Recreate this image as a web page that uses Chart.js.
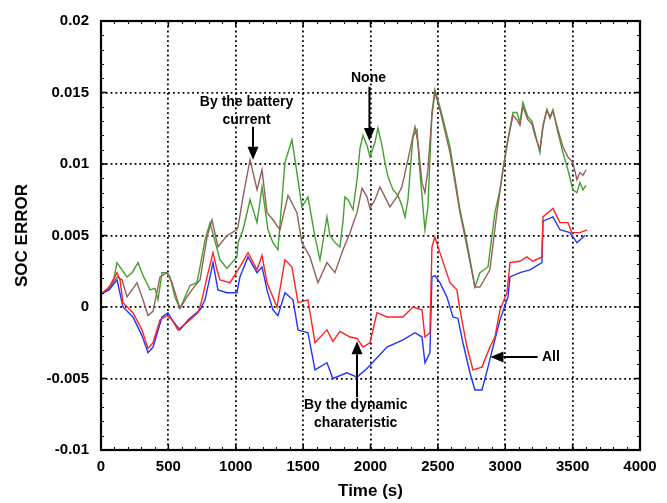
<!DOCTYPE html>
<html lang="en">
<head>
<meta charset="UTF-8">
<title>SOC error</title>
<script src="https://cdn.jsdelivr.net/npm/chart.js@4"></script>
<style>
  html, body { margin: 0; padding: 0; background: #fff; }
  canvas { display: block; }
</style>
</head>
<body>
<canvas id="socChart" width="667" height="503"></canvas>
<script>
// time (s) / SOC error, one pair of arrays per curve
const noneTime = [0, 45, 89, 119, 156, 193, 230, 275, 312, 364, 401, 423, 453, 490, 512, 549, 586, 623, 660, 712, 735, 772, 809, 883, 935, 1009, 1017, 1054, 1106, 1158, 1195, 1239, 1276, 1313, 1365, 1417, 1454, 1491, 1536, 1588, 1625, 1677, 1699, 1736, 1773, 1796, 1810, 1833, 1870, 1900, 1922, 1944, 1974, 1996, 2033, 2055, 2085, 2107, 2130, 2167, 2204, 2233, 2256, 2278, 2315, 2345, 2367, 2404, 2426, 2456, 2478, 2515, 2590, 2664, 2716, 2775, 2812, 2872, 2923, 2961, 2983, 3020, 3057, 3087, 3109, 3131, 3168, 3198, 3220, 3257, 3280, 3309, 3332, 3354, 3391, 3428, 3465, 3502, 3532, 3554, 3577, 3600];
const noneErr = [0.0009, 0.0012, 0.0017, 0.0031, 0.0026, 0.0021, 0.0024, 0.0031, 0.0022, 0.0012, 0.0013, 0.0005, 0.0024, 0.0024, 0.0021, 0.0007, -0.0001, 0.0007, 0.0015, 0.0017, 0.0028, 0.0047, 0.0059, 0.0033, 0.0027, 0.0035, 0.0045, 0.0054, 0.0075, 0.0059, 0.0084, 0.0054, 0.0045, 0.004, 0.0101, 0.0117, 0.0094, 0.007, 0.0077, 0.0049, 0.0033, 0.0063, 0.005, 0.0045, 0.0042, 0.006, 0.0077, 0.0075, 0.0068, 0.0089, 0.0111, 0.012, 0.0113, 0.0105, 0.0115, 0.0125, 0.0113, 0.0101, 0.0091, 0.0082, 0.0078, 0.0071, 0.0063, 0.0075, 0.0119, 0.0124, 0.0094, 0.0054, 0.007, 0.0136, 0.0152, 0.014, 0.0112, 0.0068, 0.0045, 0.0014, 0.0024, 0.0028, 0.0066, 0.0082, 0.0096, 0.0117, 0.0136, 0.0136, 0.0129, 0.0143, 0.0133, 0.013, 0.0122, 0.0108, 0.0126, 0.0138, 0.0133, 0.0138, 0.0122, 0.0108, 0.0096, 0.0082, 0.008, 0.0087, 0.0082, 0.0085];

const currentTime = [0, 60, 119, 156, 193, 230, 267, 312, 349, 386, 438, 490, 527, 586, 638, 682, 735, 787, 824, 868, 935, 1009, 1017, 1054, 1106, 1158, 1195, 1232, 1276, 1328, 1388, 1454, 1491, 1551, 1610, 1677, 1736, 1796, 1848, 1870, 1900, 1937, 1974, 1996, 2033, 2070, 2107, 2144, 2196, 2233, 2278, 2330, 2352, 2382, 2404, 2426, 2456, 2478, 2515, 2590, 2664, 2716, 2775, 2812, 2886, 2938, 2983, 3020, 3057, 3087, 3109, 3131, 3168, 3198, 3220, 3257, 3280, 3309, 3332, 3354, 3391, 3428, 3465, 3502, 3532, 3554, 3577, 3600];
const currentErr = [0.0009, 0.0013, 0.0021, 0.0019, 0.0007, 0.0012, 0.0017, 0.0005, -0.0006, -0.0003, 0.0021, 0.0024, 0.0017, -0.0001, 0.0007, 0.0013, 0.0019, 0.0049, 0.0061, 0.0042, 0.005, 0.0054, 0.0056, 0.0077, 0.0103, 0.0082, 0.0096, 0.0066, 0.0061, 0.0054, 0.0078, 0.0066, 0.0045, 0.0035, 0.0017, 0.0031, 0.0024, 0.004, 0.0052, 0.0058, 0.0066, 0.0083, 0.0077, 0.0069, 0.0075, 0.0084, 0.0077, 0.007, 0.0077, 0.0084, 0.0103, 0.0126, 0.0115, 0.0087, 0.008, 0.0096, 0.0134, 0.015, 0.0138, 0.0108, 0.0066, 0.0042, 0.0014, 0.0014, 0.0026, 0.0066, 0.0096, 0.0117, 0.0134, 0.0131, 0.0127, 0.014, 0.0131, 0.0128, 0.012, 0.011, 0.0127, 0.0138, 0.0132, 0.0137, 0.0124, 0.0112, 0.0105, 0.0101, 0.0089, 0.0094, 0.0092, 0.0096];

const dynamicTime = [0, 60, 119, 141, 163, 237, 304, 349, 386, 438, 490, 527, 571, 623, 660, 720, 749, 787, 831, 861, 883, 957, 1031, 1091, 1158, 1195, 1232, 1306, 1365, 1417, 1462, 1536, 1588, 1677, 1721, 1773, 1848, 1900, 1944, 1996, 2048, 2122, 2241, 2315, 2382, 2404, 2441, 2456, 2478, 2515, 2590, 2641, 2664, 2716, 2760, 2827, 2886, 2923, 2961, 3013, 3035, 3109, 3161, 3205, 3272, 3280, 3354, 3406, 3465, 3495, 3554, 3606];
const dynamicErr = [0.0009, 0.0014, 0.0024, 0.0019, 0.0003, -0.0004, -0.0016, -0.0029, -0.0025, -0.0009, -0.0006, -0.0009, -0.0016, -0.0012, -0.0009, -0.0004, 0.0005, 0.0021, 0.0038, 0.0026, 0.0019, 0.0017, 0.0028, 0.0038, 0.0026, 0.0036, 0.0017, 0.0, 0.0033, 0.0028, 0.0003, 0.0005, -0.0025, -0.0016, -0.0024, -0.0017, -0.0021, -0.0022, -0.0028, -0.0025, -0.0004, -0.0007, -0.0007, 0.0, -0.0002, -0.0021, -0.0018, 0.0042, 0.0049, 0.0038, 0.0017, 0.0012, -0.0002, -0.0028, -0.0044, -0.0042, -0.0028, -0.0021, -0.0002, 0.001, 0.0031, 0.0032, 0.0035, 0.0032, 0.0035, 0.0063, 0.0069, 0.0059, 0.0059, 0.0052, 0.0052, 0.0054];

const allTime = [0, 60, 119, 163, 237, 304, 349, 386, 453, 497, 527, 586, 646, 735, 772, 809, 831, 868, 935, 1009, 1031, 1091, 1158, 1195, 1232, 1276, 1313, 1365, 1425, 1462, 1536, 1588, 1677, 1721, 1825, 1900, 1974, 2122, 2241, 2330, 2382, 2404, 2441, 2456, 2478, 2515, 2567, 2612, 2649, 2686, 2738, 2775, 2827, 2872, 2909, 2961, 3020, 3035, 3109, 3183, 3272, 3280, 3354, 3406, 3480, 3532, 3591];
const allErr = [0.0009, 0.0012, 0.0019, 0.0, -0.0007, -0.002, -0.0032, -0.0028, -0.0007, -0.0004, -0.0009, -0.0016, -0.0009, -0.0002, 0.0005, 0.0021, 0.0031, 0.0012, 0.001, 0.001, 0.0021, 0.0035, 0.0024, 0.0028, 0.0012, -0.0002, -0.0006, 0.001, 0.0005, -0.0016, -0.0018, -0.0044, -0.0039, -0.005, -0.0046, -0.0049, -0.0043, -0.0028, -0.0023, -0.0018, -0.0021, -0.0039, -0.0032, 0.0021, 0.0022, 0.0017, 0.0007, -0.0007, -0.0008, -0.0025, -0.0046, -0.0058, -0.0058, -0.0042, -0.0028, -0.0009, 0.0007, 0.0021, 0.0024, 0.0026, 0.0031, 0.006, 0.0063, 0.0054, 0.0052, 0.0045, 0.005];

const xTicks = [0, 500, 1000, 1500, 2000, 2500, 3000, 3500, 4000];
const yTicks = [-0.01, -0.005, 0, 0.005, 0.01, 0.015, 0.02];
const yTickLabels = ["-0.01", "-0.005", "0", "0.005", "0.01", "0.015", "0.02"];

// callouts: text lines, text anchor and arrow tail/tip, all in data units
const callouts = [
  { lines: ["By the battery", "current"], tx: 1080, ty: 0.0143, from: [1128, 0.0126], to: [1128, 0.0103] },
  { lines: ["None"], tx: 1985, ty: 0.0160, from: [1992, 0.0154], to: [1992, 0.0116] },
  { lines: ["By the dynamic", "charateristic"], tx: 1890, ty: -0.00685, from: [1900, -0.0063], to: [1900, -0.0024] },
  { lines: ["All"], tx: 3272, ty: -0.0035, from: [3240, -0.0035], to: [2890, -0.0035], left: true }
];

function pts(t, v) {
  return t.map((x, i) => ({ x: x, y: v[i] }));
}

const FONT = "'Liberation Sans', Arial, sans-serif";

const frame = {
  id: "frame",
  afterDraw(chart) {
    const ctx = chart.ctx;
    const a = chart.chartArea;
    const xs = chart.scales.x, ys = chart.scales.y;
    ctx.save();
    ctx.setLineDash([]);
    ctx.strokeStyle = "#000";
    // minor ticks
    ctx.lineWidth = 1;
    ctx.beginPath();
    for (let v = 0; v <= 4000; v += 100) {
      const px = Math.round(xs.getPixelForValue(v)) + 0.5;
      ctx.moveTo(px, a.bottom); ctx.lineTo(px, a.bottom - 3);
      ctx.moveTo(px, a.top); ctx.lineTo(px, a.top + 3);
    }
    for (let k = -10; k <= 20; k++) {
      const py = Math.round(ys.getPixelForValue(k / 1000)) + 0.5;
      ctx.moveTo(a.left, py); ctx.lineTo(a.left + 3, py);
      ctx.moveTo(a.right, py); ctx.lineTo(a.right - 3, py);
    }
    ctx.stroke();
    // major ticks
    ctx.lineWidth = 1.5;
    ctx.beginPath();
    xTicks.forEach(v => {
      const px = xs.getPixelForValue(v);
      ctx.moveTo(px, a.bottom); ctx.lineTo(px, a.bottom - 6);
      ctx.moveTo(px, a.top); ctx.lineTo(px, a.top + 6);
    });
    yTicks.forEach(v => {
      const py = ys.getPixelForValue(v);
      ctx.moveTo(a.left, py); ctx.lineTo(a.left + 6, py);
      ctx.moveTo(a.right, py); ctx.lineTo(a.right - 6, py);
    });
    ctx.stroke();
    ctx.lineWidth = 2.2;
    ctx.strokeRect(a.left, a.top, a.right - a.left, a.bottom - a.top);

    // callouts
    ctx.fillStyle = "#000";
    ctx.font = "bold 14px " + FONT;
    ctx.textBaseline = "middle";
    callouts.forEach(c => {
      const tx = xs.getPixelForValue(c.tx), ty = ys.getPixelForValue(c.ty);
      ctx.textAlign = c.left ? "left" : "center";
      c.lines.forEach((s, i) => ctx.fillText(s, tx, ty + i * 18));
      const x0 = xs.getPixelForValue(c.from[0]), y0 = ys.getPixelForValue(c.from[1]);
      const x1 = xs.getPixelForValue(c.to[0]), y1 = ys.getPixelForValue(c.to[1]);
      const ang = Math.atan2(y1 - y0, x1 - x0);
      const hl = 13, hw = 5.5;
      ctx.lineWidth = 2;
      ctx.beginPath();
      ctx.moveTo(x0, y0);
      ctx.lineTo(x1 - Math.cos(ang) * hl, y1 - Math.sin(ang) * hl);
      ctx.stroke();
      ctx.beginPath();
      ctx.moveTo(x1, y1);
      ctx.lineTo(x1 - Math.cos(ang) * hl - Math.sin(ang) * hw, y1 - Math.sin(ang) * hl + Math.cos(ang) * hw);
      ctx.lineTo(x1 - Math.cos(ang) * hl + Math.sin(ang) * hw, y1 - Math.sin(ang) * hl - Math.cos(ang) * hw);
      ctx.closePath();
      ctx.fill();
    });
    ctx.restore();
  }
};

const line = (label, data, color) => ({
  label: label,
  data: data,
  borderColor: color,
  borderWidth: 1.4,
  pointRadius: 0,
  tension: 0,
  fill: false
});

new Chart(document.getElementById("socChart"), {
  type: "line",
  data: {
    datasets: [
      line("By the dynamic charateristic", pts(dynamicTime, dynamicErr), "#ff2222"),
      line("All", pts(allTime, allErr), "#2233ff"),
      line("By the battery current", pts(currentTime, currentErr), "#93605a"),
      line("None", pts(noneTime, noneErr), "#44a02e")
    ]
  },
  options: {
    responsive: false,
    animation: false,
    layout: { padding: { top: 21, right: 27, left: 0, bottom: 0 } },
    plugins: { legend: { display: false }, tooltip: { enabled: false } },
    scales: {
      x: {
        type: "linear",
        min: 0, max: 4000,
        afterBuildTicks: s => { s.ticks = xTicks.map(v => ({ value: v })); },
        afterFit: s => { s.height = 53; },
        ticks: { color: "#000", padding: 8, font: { family: FONT, size: 15, weight: "bold" }, maxRotation: 0, callback: v => String(v) },
        grid: { color: "#000", lineWidth: 1.8, drawTicks: false },
        border: { display: false, dash: [1.8, 3] },
        title: { display: true, text: "Time (s)", color: "#000", padding: { top: 0, bottom: 1 }, font: { family: FONT, size: 17, weight: "bold" } }
      },
      y: {
        min: -0.01, max: 0.02,
        afterBuildTicks: s => { s.ticks = yTicks.map(v => ({ value: v })); },
        afterFit: s => { s.width = 101; },
        ticks: {
          color: "#000", padding: 12, font: { family: FONT, size: 15, weight: "bold" },
          callback: v => yTickLabels[yTicks.findIndex(t => Math.abs(t - v) < 1e-9)]
        },
        grid: { color: "#000", lineWidth: 1.8, drawTicks: false },
        border: { display: false, dash: [1.8, 3] },
        title: { display: true, text: "SOC ERROR", color: "#000", padding: { top: 12, bottom: 0 }, font: { family: FONT, size: 17, weight: "bold" } }
      }
    }
  },
  plugins: [frame]
});
</script>
</body>
</html>
